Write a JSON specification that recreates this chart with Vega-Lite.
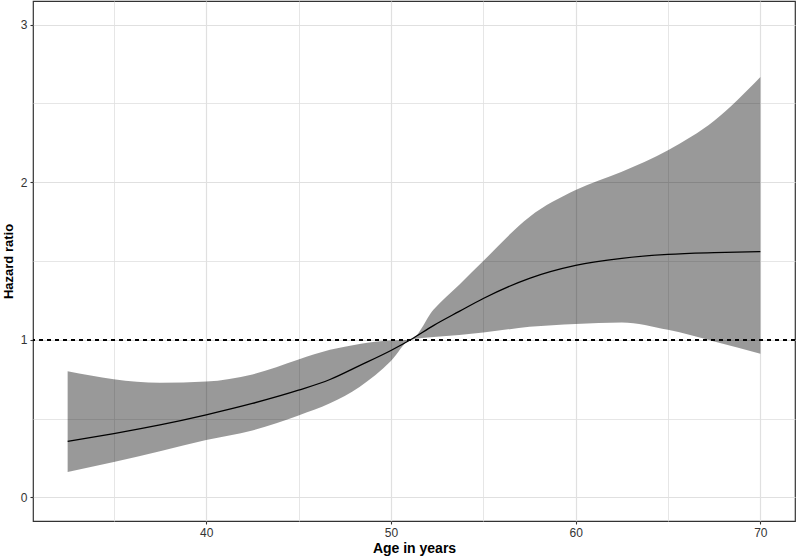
{
  "$schema": "https://vega.github.io/schema/vega-lite/v6.json",
  "width": 762,
  "height": 520,
  "autosize": {"type": "none"},
  "padding": {"left": 33, "top": 1, "right": 2, "bottom": 39},
  "background": "white",
  "config": {
    "view": {"stroke": "#333333", "strokeWidth": 1.2},
    "font": "Liberation Sans",
    "axis": {
      "domain": false,
      "gridColor": "#e0e0e0",
      "tickColor": "#333333",
      "tickSize": 3,
      "tickWidth": 1.1,
      "labelColor": "#333333",
      "labelFontSize": 12,
      "labelFont": "Liberation Sans",
      "titleFont": "Liberation Sans",
      "titleColor": "#000000",
      "titleFontWeight": "bold"
    }
  },
  "data": {
    "values": [
      {"age": 32.5, "hr": 0.355, "lo": 0.161, "hi": 0.80},
      {"age": 35.0, "hr": 0.405, "lo": 0.224, "hi": 0.75},
      {"age": 37.5, "hr": 0.460, "lo": 0.292, "hi": 0.727},
      {"age": 40.0, "hr": 0.524, "lo": 0.364, "hi": 0.735},
      {"age": 42.5, "hr": 0.596, "lo": 0.425, "hi": 0.78},
      {"age": 45.0, "hr": 0.680, "lo": 0.520, "hi": 0.875},
      {"age": 46.7, "hr": 0.748, "lo": 0.597, "hi": 0.936},
      {"age": 48.3, "hr": 0.836, "lo": 0.700, "hi": 0.974},
      {"age": 50.0, "hr": 0.932, "lo": 0.865, "hi": 0.995},
      {"age": 51.06, "hr": 1.0, "lo": 1.0, "hi": 1.0},
      {"age": 52.3, "hr": 1.09, "lo": 1.018, "hi": 1.19},
      {"age": 53.7, "hr": 1.18, "lo": 1.03, "hi": 1.35},
      {"age": 55.0, "hr": 1.262, "lo": 1.046, "hi": 1.50},
      {"age": 57.5, "hr": 1.39, "lo": 1.082, "hi": 1.78},
      {"age": 60.0, "hr": 1.472, "lo": 1.10, "hi": 1.95},
      {"age": 62.5, "hr": 1.517, "lo": 1.11, "hi": 2.066},
      {"age": 65.0, "hr": 1.542, "lo": 1.063, "hi": 2.203},
      {"age": 67.5, "hr": 1.553, "lo": 0.989, "hi": 2.39},
      {"age": 70.0, "hr": 1.559, "lo": 0.911, "hi": 2.668}
    ]
  },
  "layer": [
    {
      "mark": {"type": "area", "color": "#000000", "opacity": 0.4, "interpolate": "monotone"},
      "encoding": {
        "x": {
          "field": "age", "type": "quantitative",
          "scale": {"domain": [30.625, 71.875], "nice": false, "zero": false},
          "axis": {
            "title": "Age in years",
            "titleFontSize": 14,
            "titlePadding": 3,
            "labelPadding": 3,
            "values": [35, 40, 45, 50, 55, 60, 65, 70],
            "labelExpr": "datum.value % 10 === 0 ? format(datum.value, 'd') : ''",
            "tickOpacity": {"condition": {"test": "datum.value % 10 === 0", "value": 1}, "value": 0},
            "gridWidth": {"condition": {"test": "datum.value % 10 === 0", "value": 1.2}, "value": 0.8}
          }
        },
        "y": {
          "field": "lo", "type": "quantitative",
          "scale": {"domain": [-0.15, 3.15], "nice": false, "zero": false},
          "axis": {
            "title": "Hazard ratio",
            "titleFontSize": 13,
            "titleAngle": 270,
            "titleAlign": "center",
            "titleBaseline": "bottom",
            "titleX": -18,
            "titleY": 260,
            "labelPadding": 3,
            "values": [0, 0.5, 1, 1.5, 2, 2.5, 3],
            "labelExpr": "datum.value % 1 === 0 ? format(datum.value, 'd') : ''",
            "tickOpacity": {"condition": {"test": "datum.value % 1 === 0", "value": 1}, "value": 0},
            "gridWidth": {"condition": {"test": "datum.value % 1 === 0", "value": 1.2}, "value": 0.8}
          }
        },
        "y2": {"field": "hi"}
      }
    },
    {
      "mark": {"type": "rule", "color": "#000000", "strokeWidth": 1.2, "strokeDash": [4, 4]},
      "encoding": {
        "y": {"datum": 1, "type": "quantitative"}
      }
    },
    {
      "mark": {"type": "line", "color": "#000000", "strokeWidth": 1.3, "interpolate": "monotone"},
      "encoding": {
        "x": {"field": "age", "type": "quantitative"},
        "y": {"field": "hr", "type": "quantitative"}
      }
    }
  ]
}
